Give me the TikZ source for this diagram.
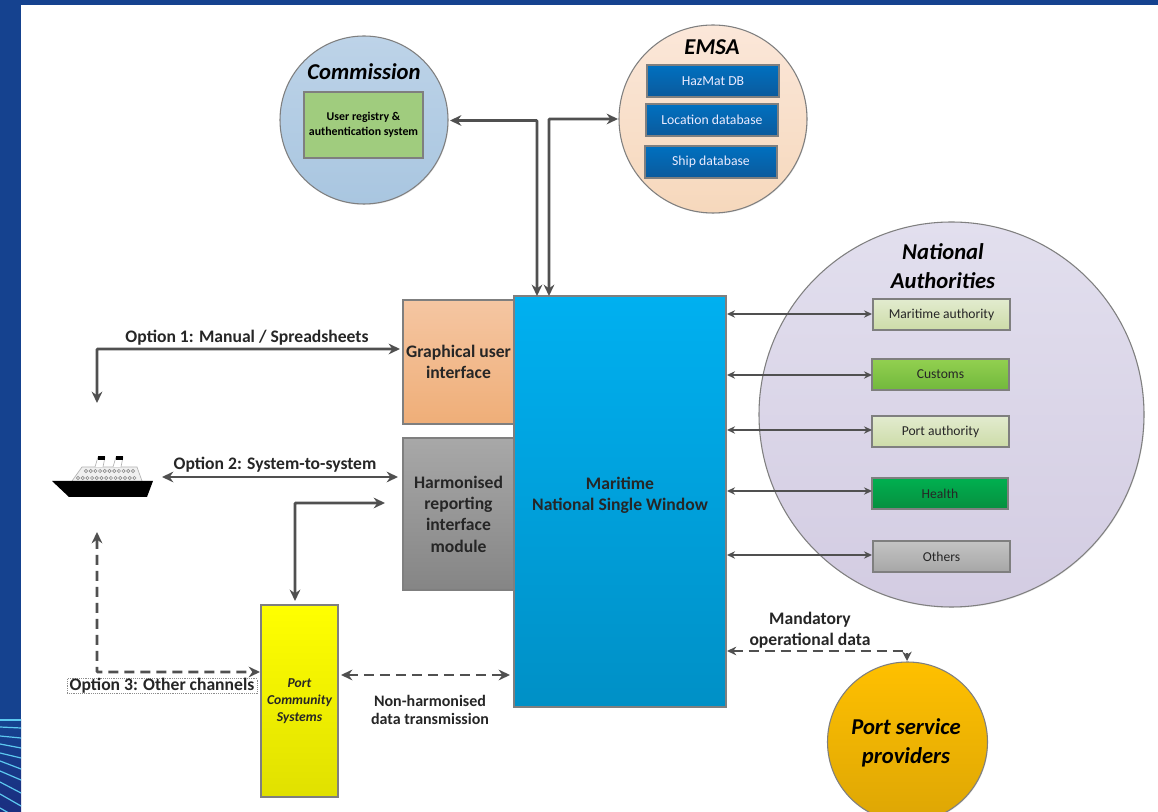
\documentclass[tikz,border=0pt]{standalone}
\usepackage{fontspec}
\setmainfont{Carlito}
\usetikzlibrary{arrows.meta,shadows}
\definecolor{frameblue}{HTML}{15428F}
\definecolor{framedark}{HTML}{1B2E80}
\definecolor{frameline}{HTML}{5CC8F0}
\definecolor{conn}{HTML}{505050}
\definecolor{edgegray}{HTML}{7F7F7F}
\definecolor{commtop}{HTML}{BDD3E8}\definecolor{commbot}{HTML}{A9C6E0}
\definecolor{emsatop}{HTML}{FBE7D9}\definecolor{emsabot}{HTML}{F6D8BC}
\definecolor{nattop}{HTML}{E2DFEE}\definecolor{natbot}{HTML}{D3CCE2}
\definecolor{psptop}{HTML}{FFC000}\definecolor{pspbot}{HTML}{DDA605}
\definecolor{guitop}{HTML}{F5C6A2}\definecolor{guibot}{HTML}{EFAE78}
\definecolor{hrimtop}{HTML}{A8A8A8}\definecolor{hrimbot}{HTML}{858585}
\definecolor{maintop}{HTML}{00B0F0}\definecolor{mainbot}{HTML}{0090C6}
\definecolor{dbtop}{HTML}{0070C0}\definecolor{dbbot}{HTML}{0B5A9C}
\definecolor{reggreen}{HTML}{A0CC7E}
\definecolor{paletop}{HTML}{E2EBCF}\definecolor{palebot}{HTML}{CDDCA8}
\definecolor{custop}{HTML}{92D050}\definecolor{cusbot}{HTML}{72B83C}
\definecolor{heatop}{HTML}{00B050}\definecolor{heabot}{HTML}{078F3F}
\definecolor{othtop}{HTML}{C4C4C4}\definecolor{othbot}{HTML}{A6A6A6}
\tikzset{
  sized/.style 2 args={minimum width=#1*0.75pt,minimum height=#2*0.75pt,inner sep=0pt,align=center},
  blockbox/.style={draw=edgegray,line width=0.8pt,font=\bfseries\fontsize{13.2}{16}\selectfont,text=black!85},
  roundbox/.style={circle,draw=edgegray,line width=0.8pt,inner sep=0pt,drop shadow={shadow xshift=0.5pt,shadow yshift=-0.7pt,opacity=0.18}},
  titletext/.style={font=\bfseries\itshape\fontsize{17}{20}\selectfont,text=black,align=center,inner sep=0pt},
  smallbox/.style={draw=edgegray,line width=0.8pt,font=\fontsize{10.2}{12}\selectfont,text=black!85,drop shadow={shadow xshift=0.4pt,shadow yshift=-0.6pt,opacity=0.2}},
  dbbox/.style={smallbox,top color=dbtop,bottom color=dbbot,text=white!92!blue,font=\fontsize{10.3}{12}\selectfont},
  label/.style={font=\bfseries\fontsize{13.2}{15.5}\selectfont,text=black!85,align=center,inner sep=0pt},
  conline/.style={draw=conn,line width=2pt,rounded corners=0.5pt},
  both/.style={{Stealth[length=8.5pt,width=8pt]}-{Stealth[length=8.5pt,width=8pt]}},
  thin both/.style={draw=conn,line width=1.3pt,{Stealth[length=6pt,width=5.5pt]}-{Stealth[length=6pt,width=5.5pt]}},
  dashline/.style={conline,dash pattern=on 7.5pt off 4.5pt},
  porthole/.style={draw=black!45,line width=0.5pt,fill=white},
}
\begin{document}
\begin{tikzpicture}[x=0.75pt,y=-0.75pt]
\useasboundingbox (0,0) rectangle (1158,812);
\begin{scope}
\clip (0,0) rectangle (1158,812);
\fill[white] (0,0) rectangle (1158,812);
% frame
\fill[frameblue] (0,0) rectangle (1158,5);
\fill[frameblue] (0,0) rectangle (21,720);
\shade[top color=frameblue,bottom color=framedark] (0,720) rectangle (21,812);
\foreach \a/\b in {720/720,727/728,736/738,744/748,753/758,761/769,771/780,782/793,794/806,808/820}
  \draw[frameline,line width=0.9pt] (0,\a) -- (21,\b);

% circles
\node[roundbox,minimum size=385*0.75pt,top color=nattop,bottom color=natbot] (nat) at (951.5,414.5) {};
\node[roundbox,minimum size=168*0.75pt,top color=commtop,bottom color=commbot] (comm) at (364,120) {};
\node[roundbox,minimum size=188*0.75pt,top color=emsatop,bottom color=emsabot] (emsa) at (713,119) {};
\node[roundbox,minimum size=160*0.75pt,top color=psptop,bottom color=pspbot] (psp) at (907.5,742) {};

% titles
\node[titletext] (commt) at (364,72) {Commission};
\node[titletext] (emsat) at (712,47) {EMSA};
\node[titletext,font=\bfseries\itshape\fontsize{17}{22}\selectfont] (natt) at (943,266) {National\\Authorities};
\node[titletext,font=\bfseries\itshape\fontsize{17}{22}\selectfont] (pspt) at (906,743) {Port service\\providers};

% inner boxes
\node[smallbox,sized={119}{66},fill=reggreen,font=\bfseries\fontsize{8.9}{11}\selectfont,text=black] (reg) at (363.5,125) {User registry \&\\authentication system};
\node[dbbox,sized={132}{32}] (haz) at (713,81) {HazMat DB};
\node[dbbox,sized={132}{32}] (loc) at (712,120) {Location database};
\node[dbbox,sized={132}{32}] (ship) at (711,162) {Ship database};

\node[smallbox,sized={137}{31},top color=paletop,bottom color=palebot] (mar) at (941.5,314.5) {Maritime authority};
\node[smallbox,sized={137}{31},top color=custop,bottom color=cusbot] (cus) at (940.5,374.5) {Customs};
\node[smallbox,sized={137}{31},top color=paletop,bottom color=palebot] (port) at (940.5,431.5) {Port authority};
\node[smallbox,sized={136}{31},top color=heatop,bottom color=heabot] (hea) at (940,493.5) {Health};
\node[smallbox,sized={137}{31},top color=othtop,bottom color=othbot] (oth) at (941.5,556.5) {Others};

% main blocks
\node[blockbox,sized={111}{124},top color=guitop,bottom color=guibot] (gui) at (458.5,362) {Graphical user\\interface};
\node[blockbox,sized={111}{152},top color=hrimtop,bottom color=hrimbot] (hrim) at (458.5,514) {Harmonised\\reporting\\interface\\module};
\node[blockbox,sized={212}{411},top color=maintop,bottom color=mainbot] (main) at (620,501.5) {};
\node[label] (maint) at (620,495) {Maritime\\National Single Window};
\node[blockbox,sized={77}{192},top color=yellow,bottom color=yellow!88!black,font=\bfseries\itshape\fontsize{10.2}{12.8}\selectfont] (pcs) at (299.5,701) {Port\\Community\\Systems};

% ship
\begin{scope}
\draw[black!30,line width=0.5pt,fill=black!6] (72,481) -- (82,467) -- (137,467) -- (142,481);
\draw[black!30,line width=0.5pt,fill=white] (95,467) -- (98,457) -- (105,457) -- (103,467);
\draw[black!30,line width=0.5pt,fill=white] (113,467) -- (116,457) -- (123,457) -- (121,467);
\fill[black] (98,456) rectangle (105,460);
\fill[black] (116,456) rectangle (123,460);
\foreach \i in {0,...,10} \draw[porthole] ({86+\i*4.7},471) circle (1.6);
\foreach \i in {0,...,12} \draw[porthole] ({78+\i*4.7},478) circle (1.6);
\fill[black] (52,481) -- (153,481) -- (147,497) -- (69,497) -- cycle;
\end{scope}
\coordinate (shipright) at (162,477);
\coordinate (shiptop) at (97,403);
\coordinate (shipbottom) at (97,532);

% waypoints
\coordinate (guiin) at (400,349);
\coordinate (c1) at (97,349);
\coordinate (hrimin) at (398,477);
\coordinate (hrimpcs) at (385,503);
\coordinate (c2) at (295,503);
\coordinate (pcstop) at (295,601);
\coordinate (c3) at (97,672);
\coordinate (pcsin) at (260,672);
\coordinate (pcsout) at (341,675);
\coordinate (mainin) at (510,675);
\coordinate (mainout) at (727,651);
\coordinate (c4) at (907,651);
\coordinate (pspin) at (907,661);
\coordinate (commin) at (450,120.5);
\coordinate (c5) at (537,120.5);
\coordinate (m1) at (537,296);
\coordinate (emsain) at (618,119);
\coordinate (c6) at (549,119);
\coordinate (m2) at (549,296);

% connectors
\draw[conline,both] (commin) -- (c5) -- (m1);
\draw[conline,both] (m2) -- (c6) -- (emsain);
\draw[conline,both] (guiin) -- (c1) -- (shiptop);
\draw[conline,both] (shipright) -- (hrimin);
\draw[conline,both] (hrimpcs) -- (c2) -- (pcstop);
\draw[dashline,both] (shipbottom) -- (c3) -- (pcsin);
\draw[dashline,both] (pcsout) -- (mainin);
\draw[dashline,line width=1.7pt,{Stealth[length=7pt,width=6.5pt]}-{Stealth[length=7pt,width=7pt]}] (mainout) -- (c4) -- (pspin);
\foreach \t/\y in {mar/314,cus/375,port/430,hea/491,oth/555}{
  \coordinate (l\t) at (727,\y);
  \coordinate (r\t) at (872,\y);
  \draw[thin both] (l\t) -- (r\t);
}

% labels
\node[label] (opt1) at (247,338) {Option 1: Manual / Spreadsheets};
\node[label] (opt2) at (275,465) {Option 2: System-to-system};
\node[label,draw=black!45,densely dotted,line width=0.4pt,fill=white,inner xsep=2pt,inner ysep=0pt] (opt3) at (162,686) {Option 3: Other channels};
\node[label,font=\bfseries\fontsize{12}{13.5}\selectfont] (nonh) at (430,709.5) {Non-harmonised\\data transmission};
\node[label,font=\bfseries\fontsize{13.2}{16}\selectfont] (mand) at (810,630) {Mandatory\\operational data};
\end{scope}
\end{tikzpicture}
\end{document}
